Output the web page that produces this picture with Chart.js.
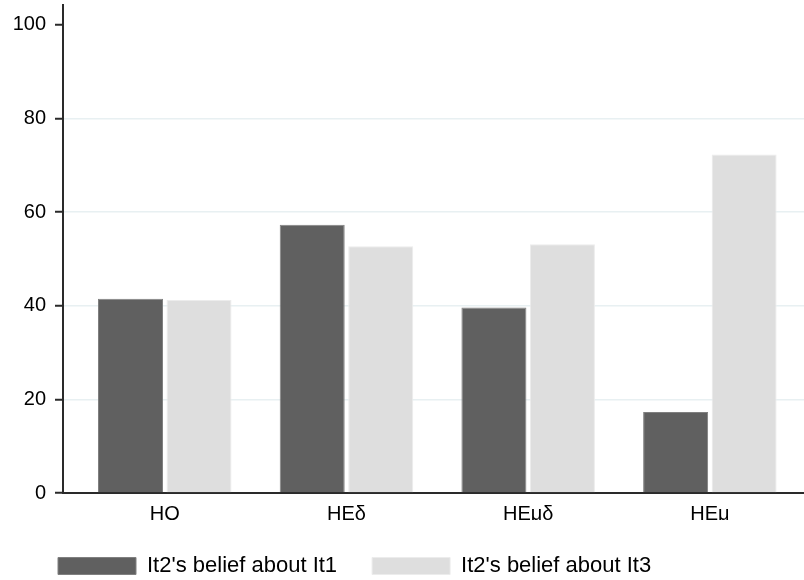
<!DOCTYPE html>
<html>
<head>
<meta charset="utf-8">
<script src="https://cdn.jsdelivr.net/npm/chart.js@4/dist/chart.umd.min.js"></script>
<style>
  html, body { margin: 0; padding: 0; background: #ffffff; }
  #wrap { width: 804px; height: 580px; }
</style>
</head>
<body>
<div id="wrap"><canvas id="c" width="804" height="580"></canvas></div>
<script>
const categories = ['HO', 'HEδ', 'HEμδ', 'HEμ'];
const seriesNames = ["It2's belief about It1", "It2's belief about It3"];
const beliefAboutIt1 = [41.5, 57.3, 39.6, 17.3];
const beliefAboutIt3 = [41.2, 52.7, 53.1, 72.3];
const yTickValues = [0, 20, 40, 60, 80, 100];

const FONT = "'Liberation Sans', Arial, sans-serif";
const toPoints = arr => arr.map((v, i) => ({ x: i, y: v }));

// shift the legend row so it starts under the plot, as in the reference
const legendShift = {
  id: 'legendShift',
  afterLayout(chart) {
    if (chart.legend) { chart.legend.left += 23; chart.legend.right += 23; }
  }
};

new Chart(document.getElementById('c'), {
  type: 'bar',
  data: {
    datasets: [
      {
        label: seriesNames[0],
        data: toPoints(beliefAboutIt1),
        backgroundColor: '#606060',
        borderColor: '#808080',
        borderWidth: 1,
        categoryPercentage: 0.754,
        barPercentage: 0.949
      },
      {
        label: seriesNames[1],
        data: toPoints(beliefAboutIt3),
        backgroundColor: '#dedede',
        borderColor: '#ececec',
        borderWidth: 1,
        categoryPercentage: 0.754,
        barPercentage: 0.949
      }
    ]
  },
  plugins: [legendShift],
  options: {
    responsive: false,
    animation: false,
    devicePixelRatio: 1,
    layout: { padding: { left: 0, right: 0, top: 5, bottom: -7 } },
    plugins: {
      tooltip: { enabled: false },
      legend: {
        position: 'bottom',
        align: 'start',
        labels: {
          boxWidth: 78,
          boxHeight: 17,
          padding: 35,
          color: '#000000',
          font: { family: FONT, size: 22 }
        }
      }
    },
    scales: {
      x: {
        type: 'linear',
        offset: false,
        min: -0.560,
        max: 3.518,
        afterBuildTicks: scale => { scale.ticks = categories.map((c, i) => ({ value: i })); },
        afterFit: scale => { scale.height = 27; scale.paddingLeft = 0; scale.paddingRight = 0; },
        grid: { display: false, drawTicks: false, offset: false },
        border: { display: true, color: '#2a2a2a', width: 2 },
        ticks: {
          autoSkip: false,
          maxRotation: 0,
          padding: 9,
          color: '#000000',
          font: { family: FONT, size: 20 },
          callback: (v) => categories[v]
        }
      },
      y: {
        min: 0,
        max: 104.2,
        afterBuildTicks: scale => { scale.ticks = yTickValues.map(v => ({ value: v })); },
        afterFit: scale => { scale.width = 63; scale.paddingTop = 0; scale.paddingBottom = 0; },
        grid: {
          color: ctx => (ctx.tick && (ctx.tick.value === 0 || ctx.tick.value === 100)) ? 'rgba(0,0,0,0)' : '#e8f0f2',
          lineWidth: 1.5,
          drawTicks: true,
          tickLength: 8,
          tickColor: '#2a2a2a',
          tickWidth: 2
        },
        border: { display: true, color: '#2a2a2a', width: 2 },
        ticks: {
          padding: 9,
          color: '#000000',
          font: { family: FONT, size: 20 }
        }
      }
    }
  }
});
</script>
</body>
</html>
